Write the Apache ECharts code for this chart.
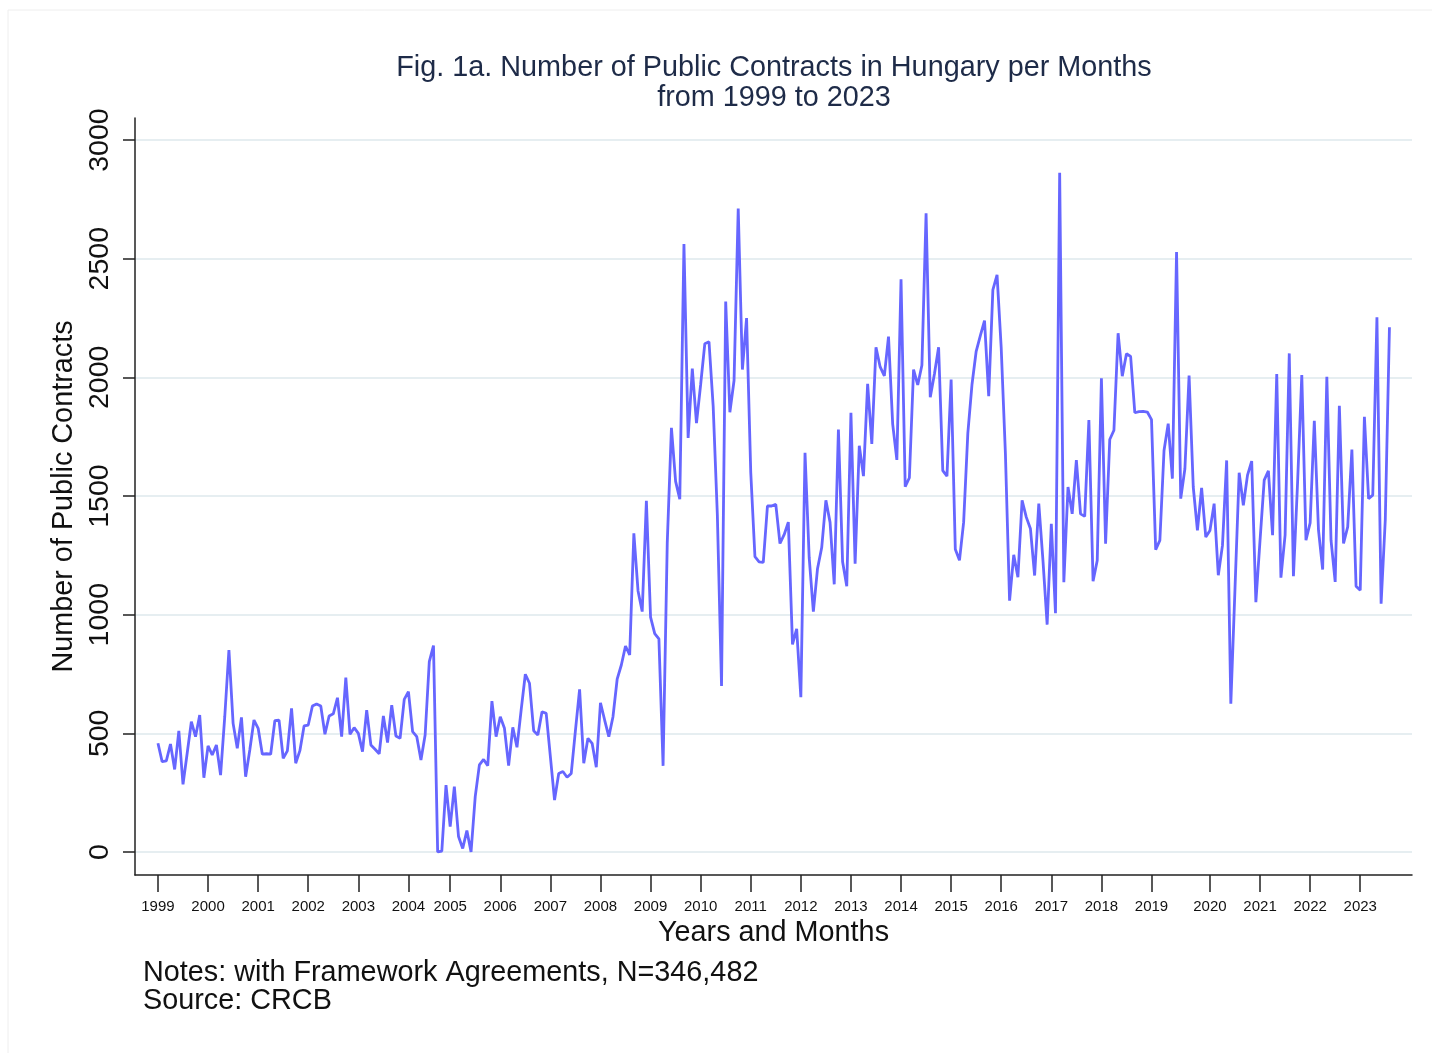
<!DOCTYPE html>
<html>
<head>
<meta charset="utf-8">
<script src="https://cdn.jsdelivr.net/npm/echarts@6/dist/echarts.min.js"></script>
<style>
html,body{margin:0;padding:0;background:#fff;}
#chart{width:1432px;height:1053px;}
</style>
</head>
<body>
<div id="chart"></div>
<script>
// Year labels and the month index at which each label/tick sits
const yearLabels = ['1999','2000','2001','2002','2003','2004','2005','2006','2007','2008','2009','2010','2011','2012','2013','2014','2015','2016','2017','2018','2019','2020','2021','2022','2023'];
const yearTickIdx = [0,12,24,36,48,60,70,82,94,106,118,130,142,154,166,178,190,202,214,226,238,252,264,276,288];
const yTicks = [0,500,1000,1500,2000,2500,3000];

// Monthly number of public contracts (index 0 = first month of 1999)
const contracts = [
458,381,384,455,348,510,285,416,549,486,577,313,
447,409,451,324,570,851,542,437,567,317,430,556,
521,412,414,412,553,556,395,426,605,374,427,531,
535,615,624,615,496,573,582,650,486,735,496,524,
500,423,598,451,433,414,573,461,619,489,479,643,
676,507,486,388,493,802,870,0,4,282,
107,275,65,15,90,0,233,367,390,364,636,486,
570,521,364,525,441,598,749,711,511,493,591,584,
402,219,331,339,315,331,511,685,374,479,458,357,
629,556,486,570,728,788,868,830,1343,1100,1013,1480,
990,920,898,363,1303,1787,1562,1487,2562,1745,2037,1807,
1970,2142,2150,1878,1420,700,2320,1853,1987,2712,2033,2250,
1600,1245,1223,1220,1458,1458,1465,1300,1337,1390,875,940,
652,1682,1240,1013,1195,1283,1482,1389,1128,1780,1223,1120,
1851,1215,1712,1584,1973,1720,2127,2044,2006,2172,1803,1652,
2413,1539,1577,2033,1968,2051,2691,1916,2014,2127,1607,1584,
1991,1276,1229,1390,1764,1970,2110,2176,2239,1921,2369,2432,
2123,1680,1059,1252,1158,1482,1411,1362,1165,1468,1228,958,
1383,1006,2862,1137,1538,1425,1651,1425,1414,1820,1141,1228,
1996,1299,1738,1777,2186,2005,2100,2088,1851,1856,1857,1854,
1822,1274,1313,1692,1805,1573,2528,1489,1615,2008,1538,1355,
1534,1327,1355,1468,1166,1292,1650,625,1110,1598,1461,1588,
1647,1053,1314,1567,1606,1335,2014,1156,1335,2101,1162,1560,
2010,1314,1387,1817,1356,1190,2003,1314,1138,1880,1300,1370,
1696,1120,1103,1834,1489,1504,2253,1046,1400,2211
];

const titleLines = ['Fig. 1a. Number of Public Contracts in Hungary per Months', 'from 1999 to 2023'];
const notes = ['Notes: with Framework Agreements, N=346,482', 'Source: CRCB'];

const FONT = '"Liberation Sans", Arial, sans-serif';
const chart = echarts.init(document.getElementById('chart'), null, {renderer: 'canvas'});

const option = {
  backgroundColor: '#ffffff',
  animation: false,
  grid: {left: 135, right: 20, top: 118, bottom: 178, containLabel: false},
  xAxis: {
    type: 'value',
    min: -5.5,
    max: 300.4,
    name: 'Years and Months',
    nameLocation: 'middle',
    nameGap: 41,
    nameTextStyle: {fontFamily: FONT, fontSize: 28.8, color: '#111'},
    axisLine: {show: true, onZero: false, lineStyle: {color: '#222', width: 1.5}},
    axisTick: {show: true, customValues: yearTickIdx, length: 17, lineStyle: {color: '#222', width: 1.5}},
    axisLabel: {
      customValues: yearTickIdx,
      margin: 24,
      fontFamily: FONT, fontSize: 15, color: '#111',
      formatter: function (v) { const k = yearTickIdx.indexOf(Math.round(v)); return k >= 0 ? yearLabels[k] : ''; }
    },
    splitLine: {show: false}
  },
  yAxis: {
    type: 'value',
    min: -97,
    max: 3093,
    name: 'Number of Public Contracts',
    nameLocation: 'middle',
    nameRotate: 90,
    nameGap: 48,
    nameTextStyle: {fontFamily: FONT, fontSize: 28.8, color: '#111'},
    axisLine: {show: true, onZero: false, lineStyle: {color: '#222', width: 1.5}},
    axisTick: {show: true, customValues: yTicks, length: 12, lineStyle: {color: '#222', width: 1.5}},
    axisLabel: {
      customValues: yTicks,
      rotate: 90,
      margin: 20,
      fontFamily: FONT, fontSize: 28.5, color: '#111',
      formatter: function (v) { return String(Math.round(v)); }
    },
    splitLine: {show: true, lineStyle: {color: '#e6eef1', width: 2}}
  },
  graphic: [
    {type: 'rect', shape: {x: 8, y: 10, width: 1440, height: 1060}, style: {fill: 'none', stroke: '#eeeeee', lineWidth: 1}, silent: true},
    {type: 'text', x: 774, y: 68, style: {text: titleLines[0], font: '28.8px ' + FONT, fill: '#1e2b48', textAlign: 'center', textVerticalAlign: 'middle'}},
    {type: 'text', x: 774, y: 98, style: {text: titleLines[1], font: '28.8px ' + FONT, fill: '#1e2b48', textAlign: 'center', textVerticalAlign: 'middle'}},
    {type: 'text', x: 143, y: 973, style: {text: notes[0], font: '28.8px ' + FONT, fill: '#111', textAlign: 'left', textVerticalAlign: 'middle'}},
    {type: 'text', x: 143, y: 1001, style: {text: notes[1], font: '28.8px ' + FONT, fill: '#111', textAlign: 'left', textVerticalAlign: 'middle'}}
  ],
  series: [{
    type: 'line',
    data: contracts.map(function (v, i) { return [i, v]; }),
    showSymbol: false,
    symbol: 'none',
    lineStyle: {color: '#6666ff', width: 2.8},
    clip: false
  }]
};
chart.setOption(option);
</script>
</body>
</html>
